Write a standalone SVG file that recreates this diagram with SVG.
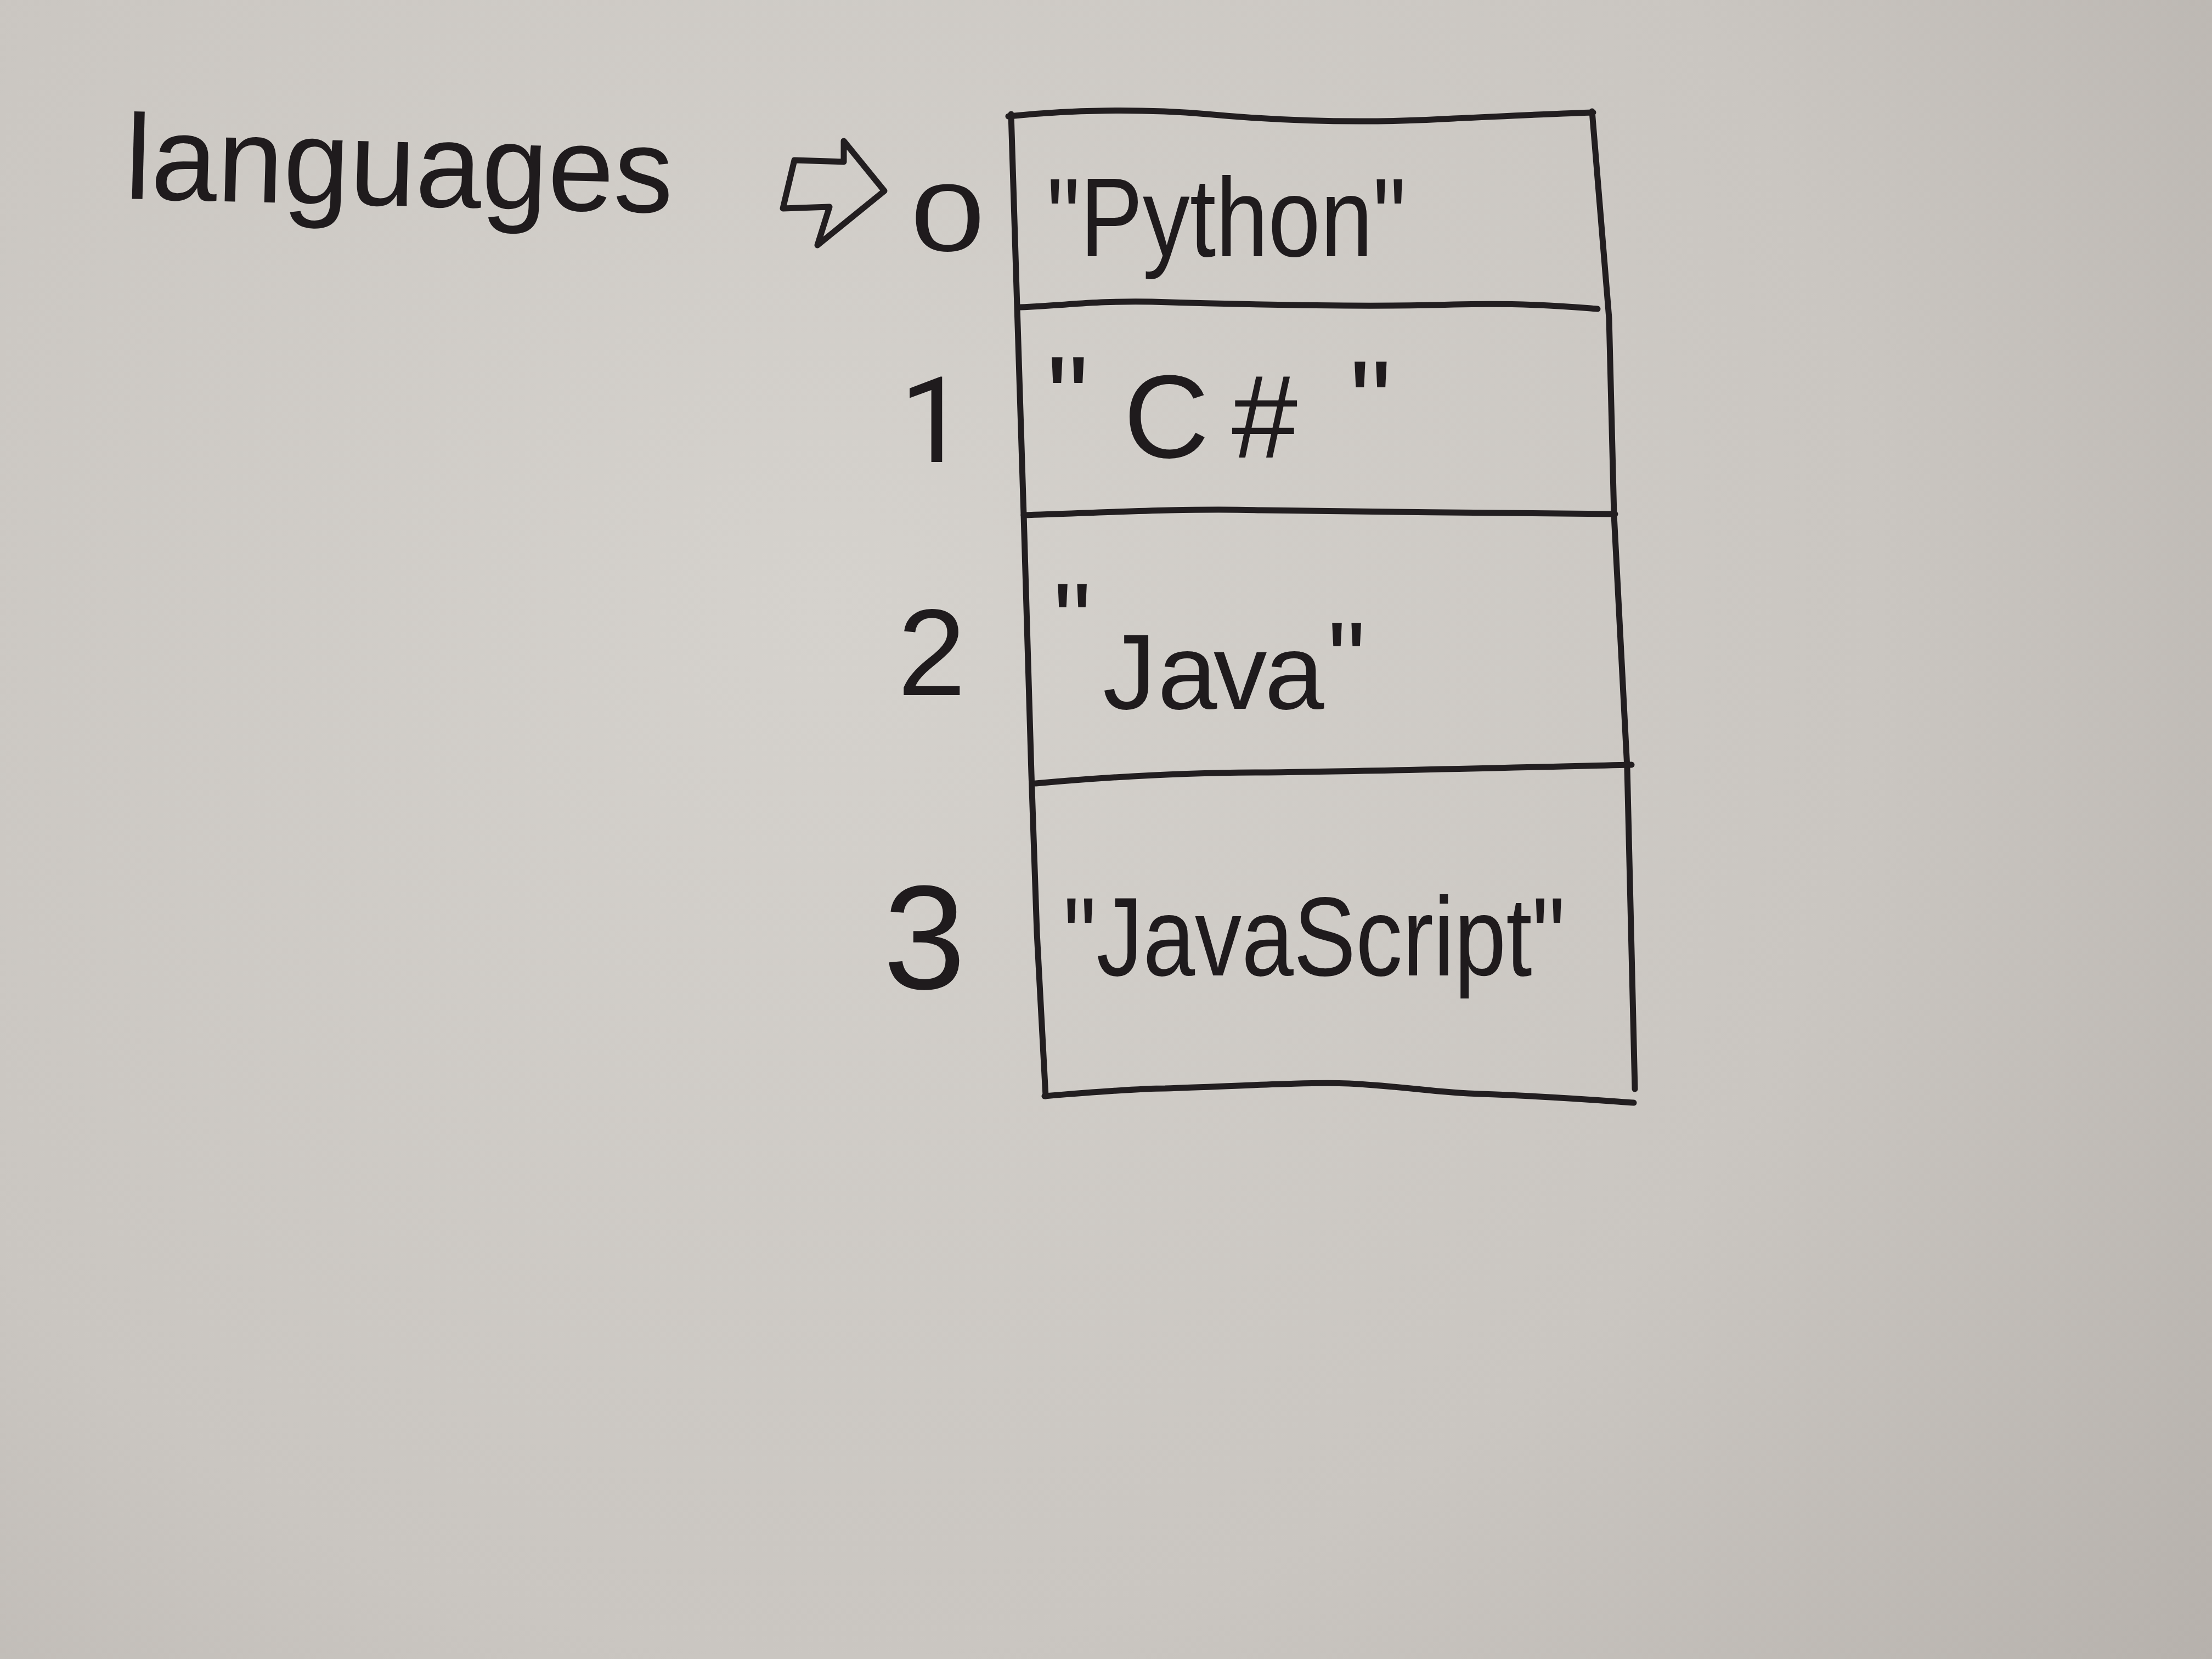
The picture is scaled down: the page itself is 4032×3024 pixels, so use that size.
<svg xmlns="http://www.w3.org/2000/svg" width="4032" height="3024" viewBox="0 0 4032 3024">
  <defs>
    <radialGradient id="paper" gradientUnits="userSpaceOnUse" cx="1500" cy="1100" r="3200">
      <stop offset="0" stop-color="#d5d2cd"/>
      <stop offset="0.6" stop-color="#cac6c1"/>
      <stop offset="1" stop-color="#b6b1ac"/>
    </radialGradient>
    <style>
      .ink { fill: none; stroke: #221e20; stroke-width: 11; stroke-linecap: round; stroke-linejoin: round; }
      .hand { font-family: "Liberation Sans", "DejaVu Sans", sans-serif; fill: #1f1b1d; }
      .idx { font-size: 224px; }
      .val { font-size: 205px; }
    </style>
  </defs>

  <!-- paper -->
  <rect x="0" y="0" width="4032" height="3024" fill="url(#paper)"/>

  <!-- variable name -->
  <g id="label-languages">
    <text class="hand" x="226" y="362" font-size="220" textLength="1000" lengthAdjust="spacingAndGlyphs" transform="rotate(1.5 226 362)">languages</text>
  </g>

  <!-- reference arrow into the array -->
  <g id="connectors">
    <path class="ink" d="M1448,292 L1538,295 L1538,257 L1612,348 L1490,447 L1512,377 L1427,380 Z"/>
  </g>

  <!-- array frame and cell dividers -->
  <g id="array-frame">
    <path class="ink" d="M1838,212 C1950,200 2080,198 2200,208 C2350,222 2500,225 2650,216 C2780,210 2860,206 2904,205"/>
    <path class="ink" d="M1843,208 L1854,560 L1866,939 L1880,1410 L1890,1700 L1906,1998"/>
    <path class="ink" d="M2902,203 L2933,580 L2942,939 L2966,1400 L2980,1985"/>
    <path class="ink" d="M1860,560 C1950,556 2000,548 2100,550 C2300,556 2500,560 2650,555 C2800,552 2870,560 2912,563"/>
    <path class="ink" d="M1866,939 C2000,935 2150,926 2300,930 C2500,934 2750,934 2944,937"/>
    <path class="ink" d="M1888,1428 C2000,1418 2150,1408 2300,1408 C2500,1406 2800,1398 2974,1394"/>
    <path class="ink" d="M1904,1998 C2000,1990 2080,1984 2124,1984 C2250,1980 2380,1972 2459,1975 C2560,1980 2620,1992 2698,1994 C2820,1998 2920,2006 2978,2010"/>
  </g>

  <!-- cell 0 -->
  <g id="cell-0">
    <text class="hand" x="1660" y="457" font-size="175" textLength="135" lengthAdjust="spacingAndGlyphs">0</text>
    <text class="hand val" x="1908" y="467" textLength="655" lengthAdjust="spacingAndGlyphs">"Python"</text>
  </g>

  <!-- cell 1 -->
  <g id="cell-1">
    <text x="1640" y="842" font-family="Roboto, 'Liberation Sans', sans-serif" font-size="217" fill="#1f1b1d">1</text>
    <text class="hand" x="1908 2048 2245 2460" y="800 834 834 808" font-size="216">"C#"</text>
  </g>

  <!-- cell 2 -->
  <g id="cell-2">
    <text class="hand idx" x="1636" y="1267">2</text>
    <text class="hand" x="1920 2010 2110 2212 2305 2420" y="1199 1292 1292 1292 1292 1270" font-size="195">"Java"</text>
  </g>

  <!-- cell 3 -->
  <g id="cell-3">
    <text class="hand" x="1610" y="1802" font-size="270">3</text>
    <text class="hand val" x="1938" y="1778" textLength="915" lengthAdjust="spacingAndGlyphs">"JavaScript"</text>
  </g>
</svg>
